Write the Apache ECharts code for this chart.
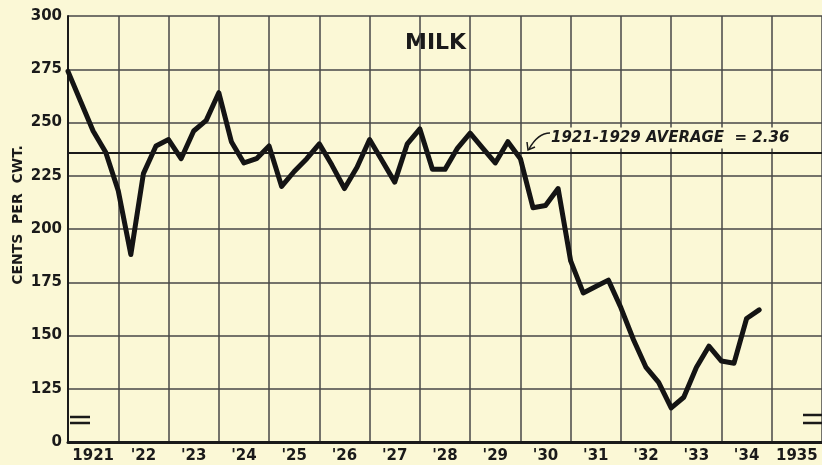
<!DOCTYPE html>
<html>
<head>
<meta charset="utf-8">
<title>Milk</title>
<script src="https://cdn.jsdelivr.net/npm/echarts@6/dist/echarts.min.js"></script>
<style>
  html, body { margin: 0; padding: 0; background: #fbf8d6; }
  #chart { width: 822px; height: 465px; }
</style>
</head>
<body>
<div id="chart"></div>
<script>
  // year band labels along the bottom
  var yearLabels = ['1921', "'22", "'23", "'24", "'25", "'26", "'27", "'28", "'29", "'30", "'31", "'32", "'33", "'34", '1935'];
  var firstYear = 1921;
  // quarterly milk price, cents per cwt, 1921 Q1 .. 1934 Q4
  var milk = [
    274, 260, 246, 236,   // 1921
    218, 188, 226, 239,   // 1922
    242, 233, 246, 251,   // 1923
    264, 241, 231, 233,   // 1924
    239, 220, 227, 233,   // 1925
    240, 230, 219, 229,   // 1926
    242, 232, 222, 240,   // 1927
    247, 228, 228, 238,   // 1928
    245, 238, 231, 241,   // 1929
    233, 210, 211, 219,   // 1930
    185, 170, 173, 176,   // 1931
    163, 148, 135, 128,   // 1932
    116, 121, 135, 145,   // 1933
    138, 137, 158, 162    // 1934
  ];
  var average = 236;
  var yTicks = [100, 125, 150, 175, 200, 225, 250, 275, 300];

  var points = [];
  for (var i = 0; i < milk.length; i++) {
    points.push([firstYear + i / 4, milk[i]]);
  }

  var bg = '#fbf8d6';
  var ink = '#1a1a1a';
  var gridInk = '#474747';

  var myChart = echarts.init(document.getElementById('chart'));
  myChart.setOption({
    backgroundColor: bg,
    animation: false,
    grid: { left: 68, right: 0, top: 16, bottom: 23 },
    xAxis: [
      {
        type: 'value',
        position: 'bottom',
        min: firstYear,
        max: firstYear + yearLabels.length,
        interval: 1,
        axisLine: { show: false },
        axisTick: { show: false },
        axisLabel: { show: false },
        splitLine: { show: true, lineStyle: { color: gridInk, width: 1.5 } }
      },
      {
        type: 'category',
        position: 'bottom',
        data: yearLabels,
        boundaryGap: true,
        axisLine: { show: true, lineStyle: { color: ink, width: 3 } },
        axisTick: { show: false },
        splitLine: { show: false },
        axisLabel: {
          interval: 0,
          color: ink,
          fontFamily: 'DejaVu Sans',
          fontWeight: 'bold',
          fontSize: 15,
          margin: 7
        }
      }
    ],
    yAxis: {
      type: 'value',
      min: yTicks[0],
      max: yTicks[yTicks.length - 1],
      interval: 25,
      axisLine: { show: true, lineStyle: { color: ink, width: 2 } },
      axisTick: { show: false },
      splitLine: { show: true, lineStyle: { color: gridInk, width: 1.5 } },
      axisLabel: {
        color: ink,
        fontFamily: 'DejaVu Sans',
        fontWeight: 'bold',
        fontSize: 15,
        margin: 6,
        formatter: function (v) { return v === 100 ? '0' : String(v); }
      }
    },
    series: [
      {
        type: 'line',
        xAxisIndex: 0,
        data: points,
        symbol: 'none',
        lineStyle: { color: '#141414', width: 5, join: 'round', cap: 'round' },
        markLine: {
          silent: true,
          symbol: 'none',
          label: { show: false },
          lineStyle: { color: ink, width: 2, type: 'solid' },
          data: [{ yAxis: average }]
        }
      }
    ],
    graphic: [
      {
        type: 'text', left: 405, top: 32,
        style: { text: 'MILK', font: 'bold 22px "DejaVu Sans"', fill: ink }
      },
      {
        type: 'text', x: 18, y: 215, rotation: Math.PI / 2,
        style: {
          text: 'CENTS  PER  CWT.', font: 'bold 14px "DejaVu Sans"', fill: ink,
          textAlign: 'center', textVerticalAlign: 'middle'
        }
      },
      {
        type: 'text', x: 549, y: 138, z: 10,
        style: {
          text: '1921-1929 AVERAGE  = 2.36', font: 'italic bold 15px "DejaVu Sans"', fill: ink,
          textVerticalAlign: 'middle', backgroundColor: bg, padding: [3, 2, 3, 2]
        }
      },
      {
        type: 'bezierCurve', z: 10,
        shape: { x1: 550, y1: 133, cpx1: 538, cpy1: 133, x2: 529, y2: 149 },
        style: { stroke: ink, lineWidth: 1.5, fill: null }
      },
      {
        type: 'polyline', z: 10,
        shape: { points: [[527, 142], [528, 150], [535, 147]] },
        style: { stroke: ink, lineWidth: 1.5, fill: null }
      },
      // axis break marks
      { type: 'line', z: 10, shape: { x1: 70, y1: 417, x2: 90, y2: 417 }, style: { stroke: ink, lineWidth: 2.5 } },
      { type: 'line', z: 10, shape: { x1: 70, y1: 423, x2: 90, y2: 423 }, style: { stroke: ink, lineWidth: 2.5 } },
      { type: 'line', z: 10, shape: { x1: 803, y1: 415, x2: 822, y2: 415 }, style: { stroke: ink, lineWidth: 2.5 } },
      { type: 'line', z: 10, shape: { x1: 803, y1: 423, x2: 822, y2: 423 }, style: { stroke: ink, lineWidth: 2.5 } }
    ]
  });
</script>
</body>
</html>
